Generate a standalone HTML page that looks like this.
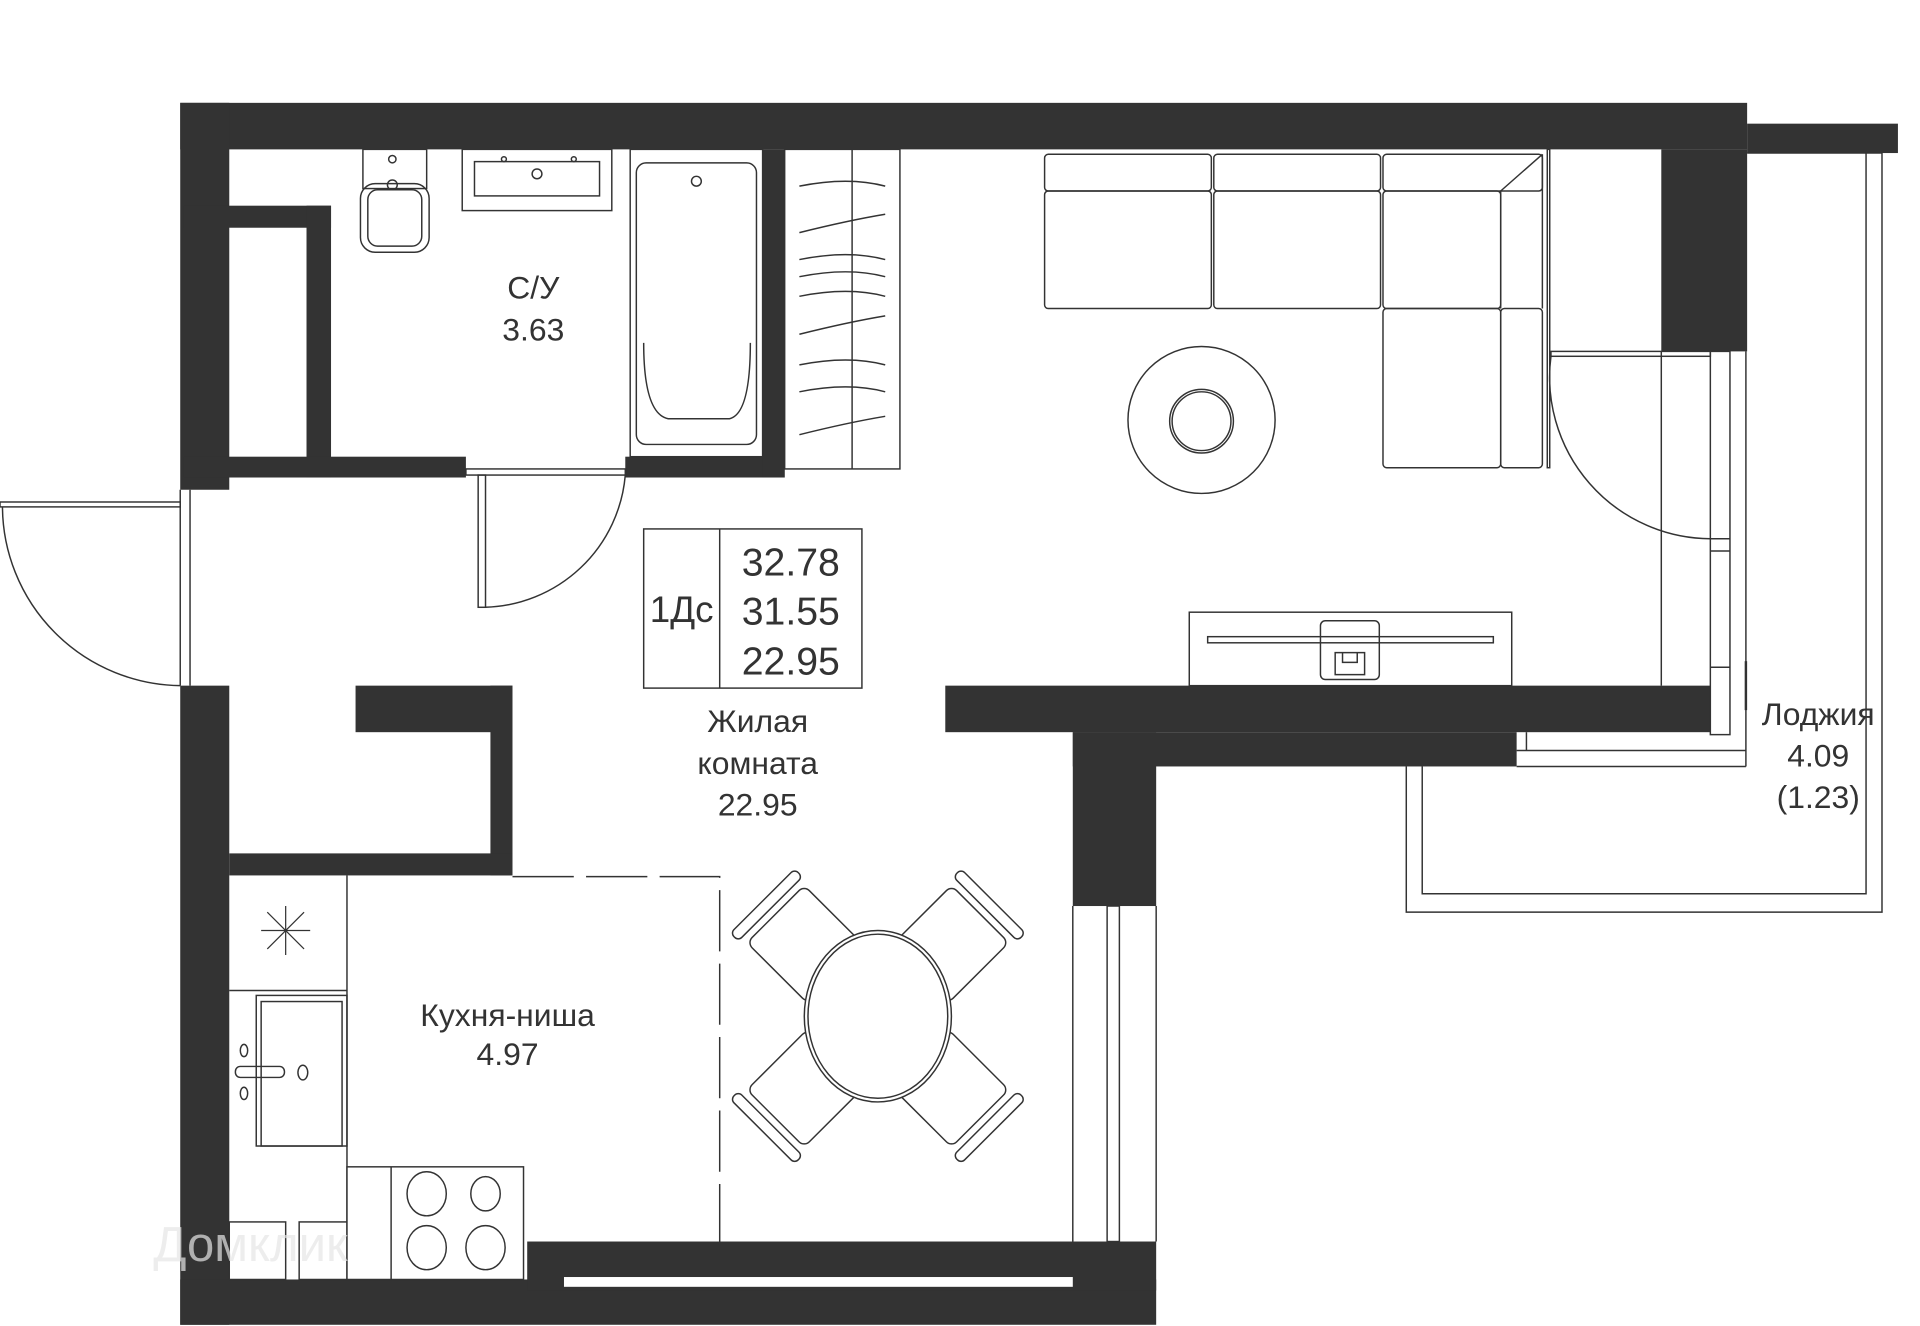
<!DOCTYPE html>
<html><head><meta charset="utf-8"><style>
html,body{margin:0;padding:0;background:#fff;}
svg{display:block;}
text{font-family:"Liberation Sans",sans-serif;fill:#333;}
</style></head><body>
<svg width="1920" height="1326" viewBox="0 0 1566 1083" preserveAspectRatio="none" xmlns="http://www.w3.org/2000/svg">
<g fill="#333">
<rect x="147" y="84" width="1278" height="38"/>
<rect x="1425" y="101" width="123" height="24"/>
<rect x="1355" y="122" width="70" height="165"/>
<rect x="147" y="84" width="40" height="316"/>
<rect x="147" y="560" width="40" height="522"/>
<rect x="147" y="1045" width="796" height="37"/>
<rect x="430" y="1014" width="513" height="40"/>
<rect x="875" y="598" width="68" height="142"/>
<rect x="771" y="560" width="624" height="38"/>
<rect x="875" y="598" width="362" height="28"/>
<rect x="150" y="168" width="120" height="18"/>
<rect x="250" y="168" width="20" height="222"/>
<rect x="150" y="373" width="230" height="17"/>
<rect x="510" y="373" width="130" height="17"/>
<rect x="622" y="122" width="18" height="268"/>
<rect x="290" y="560" width="128" height="38"/>
<rect x="400" y="560" width="18" height="155"/>
<rect x="187" y="697" width="231" height="18"/>
</g>
<rect x="460" y="1043" width="415" height="8" fill="#fff"/>
<g fill="none" stroke="#333" stroke-width="1.2">
<rect x="187" y="998" width="46" height="47" fill="#fff"/>
<rect x="244" y="998" width="40" height="47" fill="#fff"/>
<line x1="147" y1="400" x2="147" y2="560"/><line x1="155" y1="400" x2="155" y2="560"/>
<rect x="0" y="410" width="147" height="4"/>
<path d="M2 414 A147 147 0 0 0 147 560"/>
<rect x="380" y="383" width="130" height="5"/>
<rect x="390" y="388" width="6" height="108"/>
<path d="M396 496 A118 118 0 0 0 510 388"/>
<rect x="296" y="122" width="52" height="32"/>
<rect x="294" y="150" width="56" height="56" rx="12"/>
<rect x="300" y="155" width="44" height="46" rx="8"/>
<circle cx="320" cy="151" r="4"/><circle cx="320" cy="130" r="3"/>
<rect x="377" y="122" width="122" height="50"/>
<rect x="387" y="132" width="102" height="28"/>
<circle cx="438" cy="142" r="4"/><circle cx="411" cy="130" r="2"/><circle cx="468" cy="130" r="2"/>
<rect x="514" y="122" width="108" height="251"/>
<rect x="519" y="133" width="98" height="230" rx="8"/>
<path d="M525 280 Q525 338 545 342 L595 342 Q612 338 612 280"/>
<circle cx="568" cy="148" r="4"/>
<rect x="640" y="122" width="94" height="261"/>
<line x1="695" y1="122" x2="695" y2="383"/>
<path d="M652 152 q40 -8 70 0 M652 190 q40 -10 70 -15 M652 212 q40 -8 70 0 M652 226 q40 -8 70 0 M652 242 q40 -8 70 0 M652 273 q40 -10 70 -15 M652 298 q40 -8 70 0 M652 320 q40 -8 70 0 M652 355 q40 -10 70 -15"/>
<rect x="852" y="126" width="136" height="30" rx="3"/>
<rect x="990" y="126" width="136" height="30" rx="3"/>
<rect x="1128" y="126" width="130" height="30" rx="3"/>
<rect x="852" y="156" width="136" height="96" rx="3"/>
<rect x="990" y="156" width="136" height="96" rx="3"/>
<rect x="1128" y="156" width="96" height="96" rx="3"/>
<rect x="1128" y="252" width="96" height="130" rx="3"/>
<rect x="1224" y="252" width="34" height="130" rx="3"/>
<line x1="1224" y1="156" x2="1224" y2="252"/><line x1="1224" y1="156" x2="1258" y2="126"/>
<line x1="1258" y1="126" x2="1258" y2="252"/>
<rect x="1262" y="122" width="2" height="260"/>
<circle cx="980" cy="343" r="60"/>
<circle cx="980" cy="344" r="26"/><circle cx="980" cy="344" r="24"/>
<rect x="1265" y="287" width="130" height="4"/>
<path d="M1265 291 A132 132 0 0 0 1395 440"/>
<line x1="1355" y1="287" x2="1355" y2="560"/>
<rect x="1395" y="287" width="16" height="313"/>
<line x1="1395" y1="440" x2="1411" y2="440"/><line x1="1395" y1="450" x2="1411" y2="450"/>
<line x1="1395" y1="545" x2="1411" y2="545"/>
<line x1="1424" y1="540" x2="1424" y2="580" stroke-width="2"/>
<rect x="970" y="500" width="263" height="60"/>
<rect x="1077" y="507" width="48" height="48" rx="4"/>
<rect x="985" y="520" width="233" height="5"/>
<path d="M1089 533 h24 v18 h-24 z M1095 533 v8 h12 v-8"/>
<path d="M1425 125 H1535 V745 H1147 V626"/>
<path d="M1522 125 V730 H1160 V626"/>
<line x1="1237" y1="613" x2="1424" y2="613"/><line x1="1237" y1="626" x2="1424" y2="626"/>
<line x1="1424" y1="287" x2="1424" y2="626"/>
<line x1="1245" y1="598" x2="1245" y2="613"/>
<line x1="875" y1="740" x2="875" y2="1014"/>
<rect x="903" y="740" width="10" height="274"/>
<line x1="943" y1="740" x2="943" y2="1014"/>
<path d="M283 715 V1045"/>
<path d="M418 716 H587 V1014" stroke-dasharray="50 10"/>
<line x1="187" y1="809" x2="283" y2="809"/>
<path d="M213 760 h40 M233 740 v40 M218 745 l30 30 M248 745 l-30 30" stroke-width="1"/>
<rect x="209" y="813" width="74" height="123"/>
<rect x="213" y="818" width="66" height="118"/>
<rect x="192" y="871" width="40" height="9" rx="4"/>
<ellipse cx="247" cy="876" rx="4" ry="6"/><ellipse cx="199" cy="858" rx="3" ry="5"/><ellipse cx="199" cy="893" rx="3" ry="5"/>
<rect x="283" y="953" width="144" height="92" fill="#fff"/>
<line x1="319" y1="953" x2="319" y2="1045"/>
<ellipse cx="348" cy="975" rx="16" ry="18"/><ellipse cx="396" cy="975" rx="12" ry="14"/>
<ellipse cx="348" cy="1019" rx="16" ry="18"/><ellipse cx="396" cy="1019" rx="16" ry="18"/>
<g transform="rotate(-45 716 830)"><rect x="683" y="712" width="66" height="70" rx="6"/><rect x="679" y="697" width="74" height="9" rx="4"/></g>
<g transform="rotate(45 716 830)"><rect x="683" y="712" width="66" height="70" rx="6"/><rect x="679" y="697" width="74" height="9" rx="4"/></g>
<g transform="rotate(135 716 830)"><rect x="683" y="712" width="66" height="70" rx="6"/><rect x="679" y="697" width="74" height="9" rx="4"/></g>
<g transform="rotate(-135 716 830)"><rect x="683" y="712" width="66" height="70" rx="6"/><rect x="679" y="697" width="74" height="9" rx="4"/></g>
<ellipse cx="716" cy="830" rx="60" ry="70" fill="#fff"/><ellipse cx="716" cy="830" rx="57" ry="67"/>
<rect x="525" y="432" width="178" height="130"/>
<line x1="587" y1="432" x2="587" y2="562"/>
</g>
<g font-size="26" text-anchor="middle">
<text x="435" y="244">С/У</text><text x="435" y="278">3.63</text>
<text x="556" y="508" font-size="30">1Дс</text>
<text x="645" y="470" font-size="32">32.78</text>
<text x="645" y="510" font-size="32">31.55</text>
<text x="645" y="551" font-size="32">22.95</text>
<text x="618" y="598">Жилая</text><text x="618" y="632">комната</text><text x="618" y="666">22.95</text>
<text x="414" y="838">Кухня-ниша</text><text x="414" y="870">4.97</text>
<text x="1483" y="592">Лоджия</text><text x="1483" y="626">4.09</text><text x="1483" y="660">(1.23)</text>
</g>
<text x="125" y="1030" font-size="40" style="fill:#e6e6e6" opacity="0.7">Домклик</text>
</svg>
</body></html>
